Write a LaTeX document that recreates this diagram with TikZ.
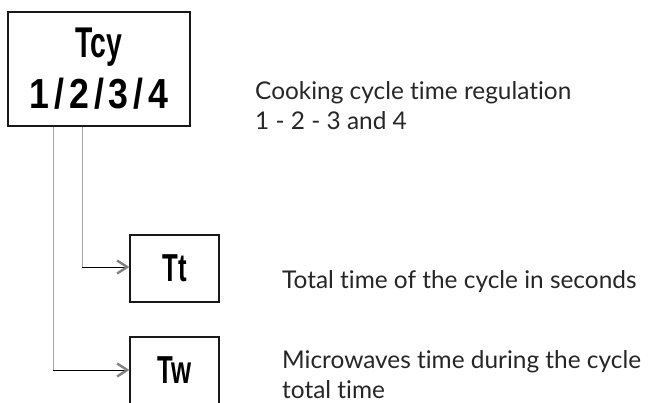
\documentclass[tikz,border=0pt]{standalone}
\usepackage{fontspec}
\usetikzlibrary{arrows.meta}
\newfontfamily\boxfont[FakeStretch=0.66]{Liberation Sans}
\newfontfamily\numfont[FakeStretch=0.85,LetterSpace=12]{Liberation Sans}
\newfontfamily\descfont[Ligatures=NoCommon]{Lato}
\begin{document}
\begin{tikzpicture}[
                x=1pt, y=-1pt,
                box/.style={draw=black!90, line width=1.3pt, inner sep=0pt, align=center,
                    font=\boxfont\bfseries\fontsize{39}{51}\selectfont},
                desc/.style={anchor=base west, align=left, inner sep=0pt, text=black!85,
                    font=\descfont\fontsize{24.4}{30}\selectfont},
                vline/.style={gray!70, line width=0.8pt},
                hline/.style={black, line width=0.8pt,
                    -{Straight Barb[length=10pt,width=13pt,line width=2.4pt,color=gray]}}
            ]

                \useasboundingbox (0,0) rectangle (663,403);

                % Boxes
                \node[box, minimum width=182pt, minimum height=114pt] (tcy) at (99,69)
                    {{\fontsize{43}{51}\selectfont Tcy}\\{\numfont\bfseries\fontsize{42}{51}\selectfont 1/2/3/4}};
                \node[box, minimum width=89pt, minimum height=67pt] (tt) at (174.5,268.5) {Tt};
                \node[box, minimum width=89pt, minimum height=67pt] (tw) at (174.5,370.5) {Tw};

                % Descriptions (base = last line)
                \node[desc] (dtcy) at (255,130) {Cooking cycle time regulation\\1 - 2 - 3 and 4};
                \node[desc] (dtt) at (282,288) {Total time of the cycle in seconds};
                \node[desc] (dtw) at (282,398) {Microwaves time during the cycle\\total time};

                % Corners of the connectors
                \coordinate (ctt) at (82,267);
                \coordinate (ctw) at (53,370);

                % Connectors
                \draw[vline] (tcy.south -| ctt) -- (ctt);
                \draw[hline] (ctt) -- (tt.west |- ctt);
                \draw[vline] (tcy.south -| ctw) -- (ctw);
                \draw[hline] (ctw) -- (tw.west |- ctw);

            \end{tikzpicture}
\end{document}
